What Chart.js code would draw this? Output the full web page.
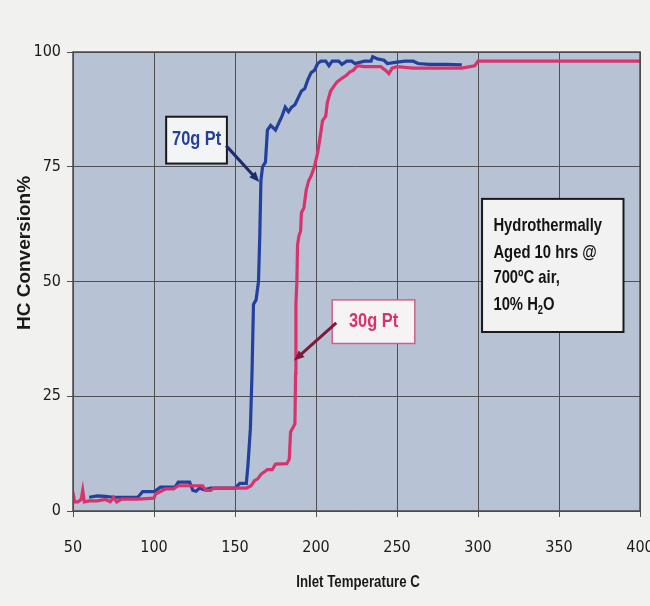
<!DOCTYPE html>
<html>
<head>
<meta charset="utf-8">
<script src="https://cdn.jsdelivr.net/npm/chart.js@4/dist/chart.umd.min.js"></script>
<style>
  html, body { margin: 0; padding: 0; background: #f1f1f0; }
  #wrap { width: 650px; height: 606px; }
</style>
</head>
<body>
<div id="wrap"><canvas id="chart" width="650" height="606"></canvas></div>
<script>
'use strict';

// ── Data ──────────────────────────────────────────────────────────────────────
const X_TICKS = [50, 100, 150, 200, 250, 300, 350, 400];
const Y_TICKS = [0, 25, 50, 75, 100];
const X_TITLE = 'Inlet Temperature C';
const Y_TITLE = 'HC Conversion%';

// 70g Pt (blue)
const PT70_TEMP = [60, 65, 70, 75, 80, 90, 93, 100, 104, 108, 113, 115, 122, 124, 126, 128, 131, 135,
  150, 153, 157, 158, 159.5, 160.5, 161.4, 163, 164.5, 165.3, 166, 167, 168.8, 170, 172, 175, 177,
  179, 181, 183, 185, 187, 189, 191, 193, 195, 197, 199, 201, 203, 206, 208, 210, 214, 216, 219,
  222, 224, 230, 234, 235, 238, 242, 244, 250, 255, 260, 263, 270, 280, 290];
const PT70_CONV = [3, 3.3, 3.2, 3, 3, 3, 4.2, 4.2, 5.2, 5.2, 5.2, 6.3, 6.3, 4.5, 4.3, 5, 4.6, 5,
  5, 6, 6, 10, 18, 30, 45, 46, 50, 60, 72, 75, 76, 83, 84, 83, 84.5,
  86, 88, 87, 88, 88.5, 90, 91.5, 92, 94, 95.5, 96, 97.5, 98, 98, 97, 98, 98, 97.3, 98,
  98, 97.5, 98, 98, 99, 98.5, 98.2, 97.5, 97.8, 98, 98, 97.5, 97.3, 97.3, 97.2];

// 30g Pt (red)
const PT30_TEMP = [50, 51, 53, 55, 56, 57, 60, 65, 70, 73, 75, 77, 80, 90, 100, 101, 107, 112, 115,
  125, 130, 132, 135, 137, 157, 160, 162, 164, 166, 170, 173, 175, 182, 183.5, 184.3, 186, 187,
  187.4, 187.6, 188.2, 188.6, 189.5, 190.5, 191, 192.5, 194, 195.5, 197, 199, 201, 202.8, 204,
  206, 207, 209, 211, 213, 215, 217, 219, 221, 223, 225.5, 230, 240, 243, 245, 247, 250, 260,
  270, 280, 290, 295, 298, 300, 310, 350, 400];
const PT30_CONV = [4, 2, 2, 2.5, 4.5, 2, 2.2, 2.2, 2.5, 2, 3, 2, 2.6, 2.6, 2.8, 3.7, 4.8, 4.8, 5.5,
  5.5, 5.5, 4.5, 4.5, 5, 5, 5.5, 6.6, 7, 8, 9, 9, 10.2, 10.3, 11.3, 17.2, 18.3, 19,
  30, 45, 50, 58, 60, 61, 65, 66, 70, 72, 73, 75, 78, 82, 85,
  86, 89, 91.5, 92.5, 93.5, 94, 94.5, 95, 95.7, 96, 97, 96.8, 96.8, 96, 95.3, 96.5, 96.8, 96.5,
  96.5, 96.5, 96.5, 96.8, 97, 98, 98, 98, 98];

const toPoints = (xs, ys) => xs.map((x, i) => ({ x, y: ys[i] }));

// ── Colours / fonts ───────────────────────────────────────────────────────────
const BLUE   = '#23409c';
const RED    = '#d8336c';
const SANS   = "'Liberation Sans', Arial, sans-serif";
const TICKF  = "'DejaVu Sans Condensed', 'Liberation Sans', sans-serif";
const SQUEEZE = 0.78;   // Arial Narrow look-alike for drawn text

// ── Helpers ───────────────────────────────────────────────────────────────────
function narrowText(ctx, text, x, y, size, align) {
  ctx.save();
  ctx.font = 'bold ' + size + 'px ' + SANS;
  ctx.translate(x, y);
  ctx.scale(SQUEEZE, 1);
  ctx.textAlign = align || 'left';
  ctx.textBaseline = 'middle';
  ctx.fillText(text, 0, 0);
  const w = ctx.measureText(text).width * SQUEEZE;
  ctx.restore();
  return w;
}

function box(ctx, x, y, w, h, fill, stroke, lw) {
  ctx.fillStyle = fill;
  ctx.fillRect(x, y, w, h);
  ctx.strokeStyle = stroke;
  ctx.lineWidth = lw;
  ctx.strokeRect(x, y, w, h);
}

function arrow(ctx, x0, y0, x1, y1, color) {
  const ang = Math.atan2(y1 - y0, x1 - x0);
  const head = 11;
  ctx.strokeStyle = color;
  ctx.fillStyle = color;
  ctx.lineWidth = 3;
  ctx.beginPath();
  ctx.moveTo(x0, y0);
  ctx.lineTo(x1 - Math.cos(ang) * head * 0.8, y1 - Math.sin(ang) * head * 0.8);
  ctx.stroke();
  ctx.beginPath();
  ctx.moveTo(x1, y1);
  ctx.lineTo(x1 - head * Math.cos(ang - 0.4), y1 - head * Math.sin(ang - 0.4));
  ctx.lineTo(x1 - head * Math.cos(ang + 0.4), y1 - head * Math.sin(ang + 0.4));
  ctx.closePath();
  ctx.fill();
}

// ── Background, titles + annotations ──────────────────────────────────────────
const decor = {
  id: 'decor',
  beforeDraw(chart) {
    const { ctx, chartArea: a } = chart;
    ctx.save();
    ctx.fillStyle = '#f1f1f0';
    ctx.fillRect(0, 0, chart.width, chart.height);
    ctx.fillStyle = '#b7c2d4';
    ctx.fillRect(a.left, a.top, a.right - a.left, a.bottom - a.top);
    ctx.restore();
  },
  afterDraw(chart) {
    const { ctx } = chart;
    ctx.save();
    ctx.fillStyle = '#1a1a1a';
    narrowText(ctx, X_TITLE, 358, 582, 17, 'center');
    ctx.font = 'bold 19px ' + SANS;
    ctx.translate(25, 253);
    ctx.rotate(-Math.PI / 2);
    ctx.textAlign = 'center';
    ctx.textBaseline = 'middle';
    ctx.fillText(Y_TITLE, 0, 0);
    ctx.restore();
  },
  afterDatasetsDraw(chart) {
    const { ctx, chartArea: a } = chart;
    const sx = chart.scales.x, sy = chart.scales.y;
    const px = v => sx.getPixelForValue(v);
    const py = v => sy.getPixelForValue(v);

    ctx.save();
    // plot frame
    ctx.strokeStyle = '#4a4a4a';
    ctx.lineWidth = 1.5;
    ctx.strokeRect(a.left, a.top, a.right - a.left, a.bottom - a.top);

    // 70g Pt label
    box(ctx, px(107.5), py(85.9), px(145) - px(107.5), py(75.7) - py(85.9), '#f3f4f6', '#1a1a1a', 2);
    ctx.fillStyle = BLUE;
    narrowText(ctx, '70g Pt', px(126.3), py(81), 21, 'center');
    arrow(ctx, px(144.5), py(79.6), px(165), py(71.7), '#1c2d6b');

    // 30g Pt label
    box(ctx, px(210), py(46), px(261) - px(210), py(36.5) - py(46), '#f6f3f4', '#d06088', 1.5);
    ctx.fillStyle = RED;
    narrowText(ctx, '30g Pt', px(235.5), py(41.3), 21, 'center');
    arrow(ctx, px(212.5), py(41), px(186.5), py(32.8), '#7e1a38');

    // conditions box
    box(ctx, px(302.5), py(68), px(389.8) - px(302.5), py(39) - py(68), '#f2f2f2', '#1a1a1a', 2);
    ctx.fillStyle = '#141414';
    const tx = px(309.5);
    narrowText(ctx, 'Hydrothermally', tx, py(62.2), 19);
    narrowText(ctx, 'Aged 10 hrs @', tx, py(56.3), 19);
    narrowText(ctx, '700ºC air,', tx, py(50.9), 19);
    const ly = py(45);
    let w = narrowText(ctx, '10% H', tx, ly, 19);
    w += narrowText(ctx, '2', tx + w, ly + 6, 12);
    narrowText(ctx, 'O', tx + w, ly, 19);
    ctx.restore();
  }
};

// ── Chart ─────────────────────────────────────────────────────────────────────
new Chart(document.getElementById('chart').getContext('2d'), {
  type: 'line',
  data: {
    datasets: [
      { label: '30g Pt', data: toPoints(PT30_TEMP, PT30_CONV), borderColor: RED,
        borderWidth: 3.2, pointRadius: 0, tension: 0 },
      { label: '70g Pt', data: toPoints(PT70_TEMP, PT70_CONV), borderColor: BLUE,
        borderWidth: 3.2, pointRadius: 0, tension: 0 },
    ]
  },
  options: {
    responsive: false,
    animation: false,
    events: [],
    layout: { padding: { left: 0, right: 10, top: 52, bottom: 0 } },
    plugins: { legend: { display: false }, tooltip: { enabled: false } },
    scales: {
      x: {
        type: 'linear', min: 50, max: 400,
        afterBuildTicks: s => { s.ticks = X_TICKS.map(v => ({ value: v })); },
        afterFit: s => { s.height = 95; s.paddingLeft = 0; s.paddingRight = 0; },
        grid: { color: '#505050', lineWidth: 1, tickLength: 6, tickColor: '#505050' },
        border: { display: false },
        ticks: { color: '#1a1a1a', padding: 21, maxRotation: 0, font: { family: TICKF, size: 16 } }
      },
      y: {
        min: 0, max: 100,
        afterBuildTicks: s => { s.ticks = Y_TICKS.map(v => ({ value: v })); },
        afterFit: s => { s.width = 73; s.paddingTop = 0; s.paddingBottom = 0; },
        grid: { color: '#505050', lineWidth: 1, tickLength: 6, tickColor: '#505050' },
        border: { display: false },
        ticks: { color: '#1a1a1a', padding: 6, font: { family: TICKF, size: 16 } }
      }
    }
  },
  plugins: [decor]
});
</script>
</body>
</html>
